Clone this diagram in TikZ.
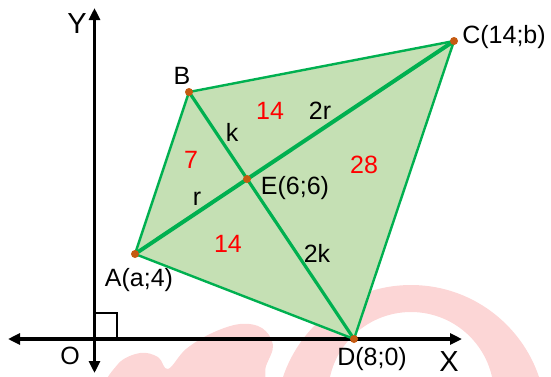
\documentclass[tikz,border=0pt]{standalone}
\usepackage{fontspec}
\setmainfont{Liberation Sans}
\usetikzlibrary{arrows.meta}
\definecolor{edgegreen}{RGB}{0,176,80}
\definecolor{fillgreen}{RGB}{197,224,180}
\definecolor{dotorange}{RGB}{197,90,17}
\definecolor{wmpink}{RGB}{252,214,214}
\begin{document}
\begin{tikzpicture}[x=1pt,y=-1pt,
  lbl/.style={font=\fontsize{25}{30}\selectfont, inner sep=0pt},
  num/.style={lbl, text=red},
  axlbl/.style={font=\fontsize{29}{34}\selectfont, inner sep=0pt},
  edgeline/.style={draw=edgegreen, line width=2.4pt, line join=round},
  diagline/.style={draw=edgegreen, line width=3.6pt},
  axisline/.style={line width=3.2pt, {Triangle[length=12pt,width=11pt]}-{Triangle[length=12pt,width=11pt]}},
  dot/.style={circle, fill=dotorange, inner sep=0pt, minimum size=8pt}]
\useasboundingbox (0,0) rectangle (551,376);
% watermark
\begin{scope}
\clip (0,0) rectangle (551,376);
\fill[wmpink, even odd rule] (411,420) circle[radius=135pt] (411,395) circle[radius=83pt];
\fill[wmpink] plot[smooth cycle, tension=0.6] coordinates {(108,392) (118,364) (140,353) (158,357) (168,369) (186,349) (212,333) (240,324) (262,328) (273,345) (266,366) (256,392) (180,400)};
\end{scope}
% points
\coordinate (A) at (135,254);
\coordinate (B) at (189,92);
\coordinate (C) at (454,41);
\coordinate (D) at (354,339);
\coordinate (E) at (247,179);
\coordinate (XL) at (8,339);
\coordinate (XR) at (462,339);
\coordinate (YT) at (94.5,8);
\coordinate (YB) at (94.5,373);
\coordinate (S1) at (94.5,313);
\coordinate (S2) at (117,313);
\coordinate (S3) at (117,339);
% axes
\draw[axisline] (XL) -- (XR);
\draw[axisline] (YB) -- (YT);
\draw[line width=2.4pt] (S1) -- (S2) -- (S3);
% quadrilateral
\fill[fillgreen] (A) -- (B) -- (C) -- (D) -- cycle;
\draw[edgeline] (A) -- (B) -- (C) -- (D) -- cycle;
\draw[diagline, line width=4pt] (A) -- (C);
\draw[diagline, line width=3.2pt] (B) -- (D);
\foreach \p in {A,B,C,D,E} \node[dot] (dot\p) at (\p) {};
% labels
\node[axlbl] (ly) at (77,24) {Y};
\node[axlbl] (lx) at (449,362) {X};
\node[lbl] (lo) at (70,356) {O};
\node[lbl] (la) at (139,280) {A(a;4)};
\node[lbl] (lb) at (182,76) {B};
\node[lbl] (lc) at (504,37) {C(14;b)};
\node[lbl] (ld) at (372,359) {D(8;0)};
\node[lbl] (le) at (295,188) {E(6;6)};
\node[num] (n1) at (270,111) {14};
\node[num] (n2) at (191,160) {7};
\node[num] (n3) at (364,165) {28};
\node[num] (n4) at (228,244) {14};
\node[lbl] (s1) at (320,111) {2r};
\node[lbl] (s2) at (232,132) {k};
\node[lbl] (s3) at (197,199) {r};
\node[lbl] (s4) at (317,253) {2k};
\end{tikzpicture}
\end{document}
